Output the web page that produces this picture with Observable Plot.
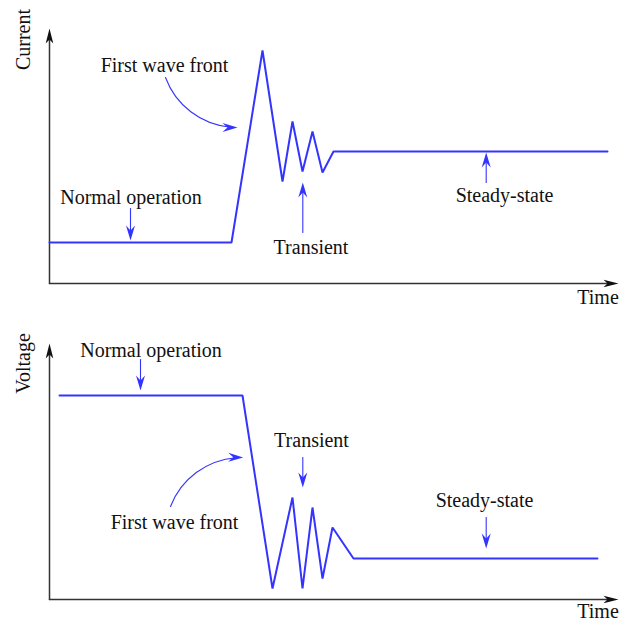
<!DOCTYPE html>
<html>
<head>
<meta charset="utf-8">
<script src="https://cdn.jsdelivr.net/npm/d3@7"></script>
<script src="https://cdn.jsdelivr.net/npm/@observablehq/plot@0.6"></script>
<style>
  html, body { margin: 0; padding: 0; background: #fff; }
  #chart > * { display: block; }
</style>
</head>
<body>
<div id="chart"></div>
<script>
// ---------- data (arbitrary units) ----------
const currentTime = [0, 18.2, 21.3, 23.3, 24.3, 25.3, 26.3, 27.3, 28.4, 55.8];
const currentValue = [4.1, 4.1, 23.3, 10.2, 16.2, 11.2, 15.2, 11.1, 13.2, 13.2];

const voltageTime = [1.0, 19.3, 22.3, 24.3, 25.3, 26.3, 27.3, 28.3, 30.4, 54.8];
const voltageValue = [20.4, 20.4, 1.1, 10.2, 1.1, 9.2, 2.1, 7.2, 4.1, 4.1];

// annotation labels
const currentLabels = ["First wave front", "Normal operation", "Transient", "Steady-state"];
const currentLabelT = [11.5, 8.15, 26.15, 45.5];
const currentLabelV = [21.84, 8.64, 3.64, 8.84];
// annotation arrows: start (t1,v1) -> tip (t2,v2), bend in degrees
const currentArrowT1 = [11.6, 8.1, 25.33, 43.67];
const currentArrowV1 = [20.6, 7.5, 5.1, 10.1];
const currentArrowT2 = [18.8, 8.1, 25.33, 43.67];
const currentArrowV2 = [15.6, 4.3, 10.1, 13.1];
const currentArrowBend = [-35, 0, 0, 0];

const voltageLabels = ["Normal operation", "Transient", "First wave front", "Steady-state"];
const voltageLabelT = [10.15, 26.2, 12.5, 43.5];
const voltageLabelV = [24.94, 15.94, 7.74, 9.94];
const voltageArrowT1 = [9.1, 25.33, 12.1, 43.67];
const voltageArrowV1 = [24.0, 14.2, 9.3, 8.2];
const voltageArrowT2 = [9.1, 25.33, 19.37, 43.67];
const voltageArrowV2 = [20.9, 11.2, 14.2, 5.1];
const voltageArrowBend = [0, 0, 35, 0];

const axisTimeLabel = "Time";
const timeMax = 57;

// ---------- styling ----------
const BLUE = "#3434ff";
const FONT = "Liberation Serif, Times New Roman, serif";

// stealth-shaped arrowhead, tip at origin, pointing up (rotated by the dot's rotate)
function stealth(len, half, notch) {
  return {
    draw(context) {
      context.moveTo(0, 0);
      context.lineTo(half, len);
      context.lineTo(0, len - notch);
      context.lineTo(-half, len);
      context.closePath();
    }
  };
}
const headBlue = stealth(15, 4.5, 5);
const headAxis = stealth(15, 3.8, 4);

function panel({times, values, yLabel, yMax, marginTop, marginBottom, labels, lt, lv,
                at1, av1, at2, av2, bend, yLabelV, timeLabelV, height}) {
  const width = 619, marginLeft = 49, marginRight = 0;
  const sx = d3.scaleLinear([0, timeMax], [marginLeft, width - marginRight]);
  const sy = d3.scaleLinear([0, yMax], [height - marginBottom, marginTop]);

  const series = times.map((t, i) => ({t, v: values[i]}));
  const texts = labels.map((s, i) => ({s, t: lt[i], v: lv[i]}));
  const arrows = at1.map((_, i) => {
    const x1 = sx(at1[i]), y1 = sy(av1[i]), x2 = sx(at2[i]), y2 = sy(av2[i]);
    const heading = Math.atan2(y2 - y1, x2 - x1) * 180 / Math.PI + bend[i];
    return {t1: at1[i], v1: av1[i], t2: at2[i], v2: av2[i], bend: bend[i], rot: heading + 90};
  });
  const axes = [
    {t1: 0, v1: 0, t2: timeMax - 0.1, v2: 0, rot: 90},
    {t1: 0, v1: 0, t2: 0, v2: yMax, rot: 0}
  ];

  return Plot.plot({
    width, height, marginLeft, marginRight, marginTop, marginBottom,
    style: {fontFamily: FONT, fontSize: "20px", background: "white", overflow: "visible"},
    x: {domain: [0, timeMax], axis: null},
    y: {domain: [0, yMax], axis: null},
    marks: [
      // axes
      Plot.arrow(axes, {x1: "t1", y1: "v1", x2: "t2", y2: "v2", stroke: "#333", strokeWidth: 1.5,
        headLength: 0, insetEnd: 8}),
      Plot.dot(axes, {x: "t2", y: "v2", rotate: "rot", symbol: headAxis, r: 1, fill: "#111", stroke: "none"}),
      // data line
      Plot.line(series, {x: "t", y: "v", stroke: BLUE, strokeWidth: 2, strokeLinejoin: "miter"}),
      // annotation arrows (one mark each, since bend is a constant option)
      ...arrows.map((a) => Plot.arrow([a], {x1: "t1", y1: "v1", x2: "t2", y2: "v2", bend: a.bend,
        stroke: BLUE, strokeWidth: 1.1, headLength: 0, insetEnd: 7})),
      Plot.dot(arrows, {x: "t2", y: "v2", rotate: "rot", symbol: headBlue, r: 1, fill: BLUE, stroke: "none"}),
      Plot.text(texts, {x: "t", y: "v", text: "s", fontSize: 20, fill: "#111"}),
      // axis labels
      Plot.text([yLabel], {x: -2.64, y: yLabelV, text: (d) => d, rotate: -90, fontSize: 20, fill: "#111"}),
      Plot.text([axisTimeLabel], {x: 54.85, y: timeLabelV, text: (d) => d, fontSize: 20, fill: "#111"})
    ]
  });
}

const topPanel = panel({
  times: currentTime, values: currentValue, yLabel: "Current", yMax: 25.5,
  height: 310, marginTop: 28, marginBottom: 27,
  labels: currentLabels, lt: currentLabelT, lv: currentLabelV,
  at1: currentArrowT1, av1: currentArrowV1, at2: currentArrowT2, av2: currentArrowV2, bend: currentArrowBend,
  yLabelV: 24.4, timeLabelV: -1.36
});
const bottomPanel = panel({
  times: voltageTime, values: voltageValue, yLabel: "Voltage", yMax: 25.6,
  height: 310, marginTop: 33, marginBottom: 21,
  labels: voltageLabels, lt: voltageLabelT, lv: voltageLabelV,
  at1: voltageArrowT1, av1: voltageArrowV1, at2: voltageArrowT2, av2: voltageArrowV2, bend: voltageArrowBend,
  yLabelV: 23.6, timeLabelV: -1.16
});
document.getElementById("chart").append(topPanel, bottomPanel);
</script>
</body>
</html>
